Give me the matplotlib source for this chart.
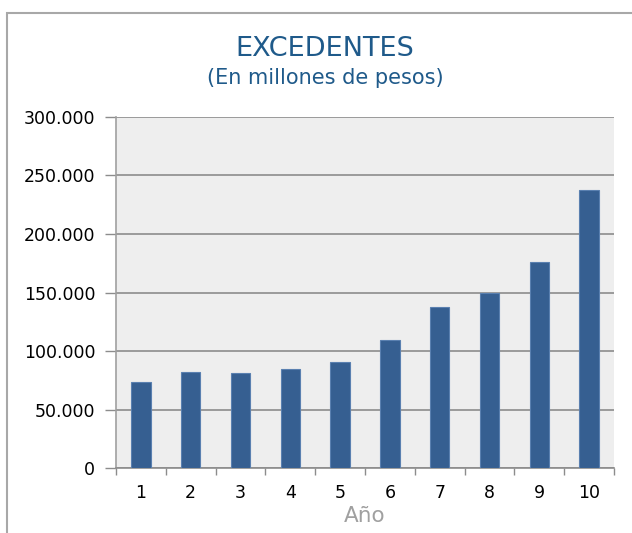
import matplotlib.pyplot as plt
from matplotlib.patches import Rectangle
from matplotlib.ticker import FuncFormatter, FixedLocator

years = ['1', '2', '3', '4', '5', '6', '7', '8', '9', '10']
excedentes = [74000, 82000, 81000, 84500, 90500, 109500, 138000, 150000, 176000, 237500]
y_ticks = [0, 50000, 100000, 150000, 200000, 250000, 300000]

plt.rcParams['font.family'] = ['DejaVu Sans']

fig = plt.figure(figsize=(6.32, 5.33), dpi=100)
ax = fig.add_axes([0.1835, 0.1214, 0.788, 0.6596])

x = list(range(len(years)))
ax.bar(x, excedentes, width=0.39, color='#365f91', edgecolor='#5a80b0', linewidth=0.8, zorder=3)

ax.set_facecolor('#eeeeee')
ax.set_xlim(-0.5, len(years) - 0.5)
ax.set_ylim(0, 300000)
ax.set_yticks(y_ticks)
ax.yaxis.set_major_formatter(FuncFormatter(lambda v, _: f'{int(v):,}'.replace(',', '.')))
ax.grid(axis='y', color='#8c8c8c', linewidth=1.2, zorder=1)

ax.set_xticks(x)
ax.set_xticklabels(years)
ax.xaxis.set_minor_locator(FixedLocator([i - 0.5 for i in range(len(years) + 1)]))
ax.tick_params(axis='x', which='major', length=0, pad=11, labelsize=12.5)
ax.tick_params(axis='x', which='minor', length=5, color='#8c8c8c', width=1)
ax.tick_params(axis='y', length=8, color='#8c8c8c', width=1, labelsize=12.5, pad=7)

for side in ['top', 'right']:
    ax.spines[side].set_visible(False)
ax.spines['left'].set_color('#a0a0a0')
ax.spines['bottom'].set_color('#8c8c8c')
ax.spines['left'].set_linewidth(1.2)
ax.spines['bottom'].set_linewidth(1.2)

ax.set_xlabel('Año', color='#a0a0a0', fontsize=15.5, labelpad=3)

fig.text(0.514, 0.908, 'EXCEDENTES', ha='center', va='center', fontsize=19.5, color='#1f5a8a')
fig.text(0.514, 0.853, '(En millones de pesos)', ha='center', va='center', fontsize=15, color='#1f5a8a')

fig.patches.append(Rectangle((7 / 632, -0.1), 1.2, 1 - 13 / 533 + 0.1, transform=fig.transFigure,
                             fill=False, edgecolor='#a8a8a8', linewidth=1.5))

fig.savefig('out.png', dpi=100)
